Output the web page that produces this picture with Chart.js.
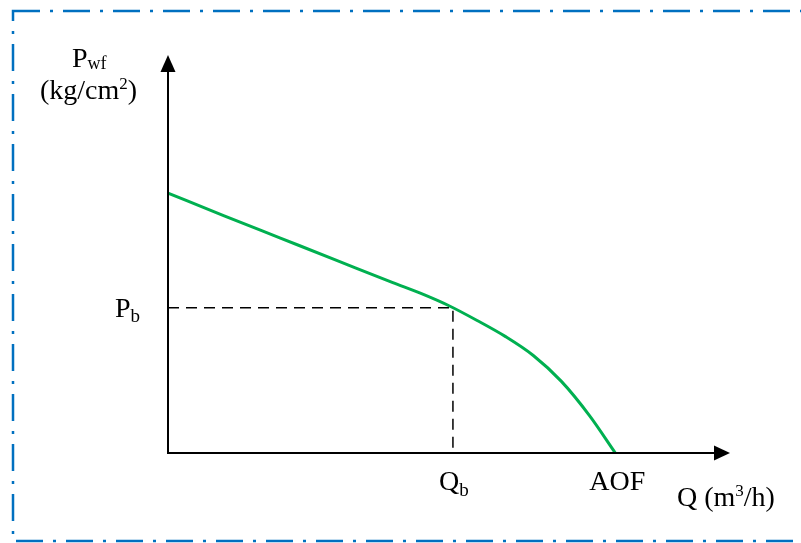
<!DOCTYPE html>
<html>
<head>
<meta charset="utf-8">
<script src="https://cdn.jsdelivr.net/npm/chart.js@4/dist/chart.umd.min.js"></script>
<style>
  html, body { margin: 0; padding: 0; background: #fff; }
  #wrap { width: 801px; height: 543px; position: relative; }
</style>
</head>
<body>
<div id="wrap"><canvas id="ipr"></canvas></div>
<script>
// IPR curve (arbitrary units, 0..100 on both axes)
const qValues   = [0, 10, 20, 30, 40, 45, 50, 55, 60, 65, 70, 75, 79.6];
const pwfValues = [65.3, 59.6, 54.0, 48.4, 42.8, 40.1, 37.0, 33.3, 29.3, 24.5, 18.0, 9.4, 0];

// bubble point
const qb = 50.7;
const pb = 36.5;
const aof = 79.6;

const SERIF = '"Liberation Serif", "Times New Roman", serif';
const GREEN = "#00B050";
const FRAME = "#0070C0";

// Utility: draw text made of pieces [text, size, dy]
function drawRich(ctx, x, y, parts, align) {
    let total = 0;
    parts.forEach(p => {
        ctx.font = p[1] + "px " + SERIF;
        total += ctx.measureText(p[0]).width;
    });
    let cx = align === "center" ? x - total / 2 : x;
    ctx.textAlign = "left";
    ctx.textBaseline = "alphabetic";
    parts.forEach(p => {
        ctx.font = p[1] + "px " + SERIF;
        ctx.fillText(p[0], cx, y + (p[2] || 0));
        cx += ctx.measureText(p[0]).width;
    });
}

// Frame, axes with arrows and labels
const decor = {
    id: "decor",
    beforeDraw(chart) {
        const ctx = chart.ctx;
        ctx.save();
        ctx.strokeStyle = FRAME;
        ctx.lineWidth = 2.5;
        ctx.setLineDash([27, 10, 3, 10]);
        ctx.strokeRect(13, 11, 800, 530);
        ctx.restore();
    },
    afterDatasetsDraw(chart) {
        const ctx = chart.ctx;
        const a = chart.chartArea;
        const xs = chart.scales.x, ys = chart.scales.y;
        const x0 = xs.getPixelForValue(0);
        const y0 = ys.getPixelForValue(0);

        ctx.save();
        ctx.strokeStyle = "#000";
        ctx.fillStyle = "#000";
        ctx.lineWidth = 2;
        ctx.beginPath();
        ctx.moveTo(x0, y0 + 1);
        ctx.lineTo(x0, a.top + 12);
        ctx.moveTo(x0 - 1, y0);
        ctx.lineTo(a.right - 12, y0);
        ctx.stroke();

        // arrow heads
        ctx.beginPath();
        ctx.moveTo(x0, a.top);
        ctx.lineTo(x0 - 7.5, a.top + 17);
        ctx.lineTo(x0 + 7.5, a.top + 17);
        ctx.closePath();
        ctx.fill();
        ctx.beginPath();
        ctx.moveTo(a.right, y0);
        ctx.lineTo(a.right - 16, y0 - 7.5);
        ctx.lineTo(a.right - 16, y0 + 7.5);
        ctx.closePath();
        ctx.fill();

        // labels
        drawRich(ctx, 72, 67, [["P", 28], ["wf", 18, 2]]);
        drawRich(ctx, 40, 99, [["(kg/cm", 28], ["2", 17, -10], [")", 28]]);
        const pbY = ys.getPixelForValue(pb);
        drawRich(ctx, 115, pbY + 9, [["P", 28], ["b", 19, 5]]);
        const qbX = xs.getPixelForValue(qb);
        drawRich(ctx, qbX + 1, 490, [["Q", 28], ["b", 19, 6]], "center");
        drawRich(ctx, xs.getPixelForValue(aof) + 2, 490, [["AOF", 28]], "center");
        drawRich(ctx, 677, 506, [["Q (m", 28], ["3", 17, -10], ["/h)", 28]]);
        ctx.restore();
    }
};

const curve = qValues.map((q, i) => ({ x: q, y: pwfValues[i] }));
const guide = [{ x: 0, y: pb }, { x: qb, y: pb }, { x: qb, y: 0 }];

new Chart(document.getElementById("ipr"), {
    type: "line",
    data: {
        datasets: [
            {
                data: curve,
                borderColor: GREEN,
                borderWidth: 3,
                pointRadius: 0,
                cubicInterpolationMode: "monotone",
                fill: false
            },
            {
                data: guide,
                borderColor: "#000",
                borderWidth: 1.5,
                borderDash: [11, 7],
                pointRadius: 0,
                tension: 0,
                fill: false
            }
        ]
    },
    options: {
        responsive: true,
        maintainAspectRatio: false,
        animation: false,
        layout: { padding: { left: 168, right: 71, top: 55, bottom: 90 } },
        plugins: { legend: { display: false }, tooltip: { enabled: false } },
        scales: {
            x: { type: "linear", min: 0, max: 100, display: false },
            y: { type: "linear", min: 0, max: 100, display: false }
        }
    },
    plugins: [decor]
});
</script>
</body>
</html>
